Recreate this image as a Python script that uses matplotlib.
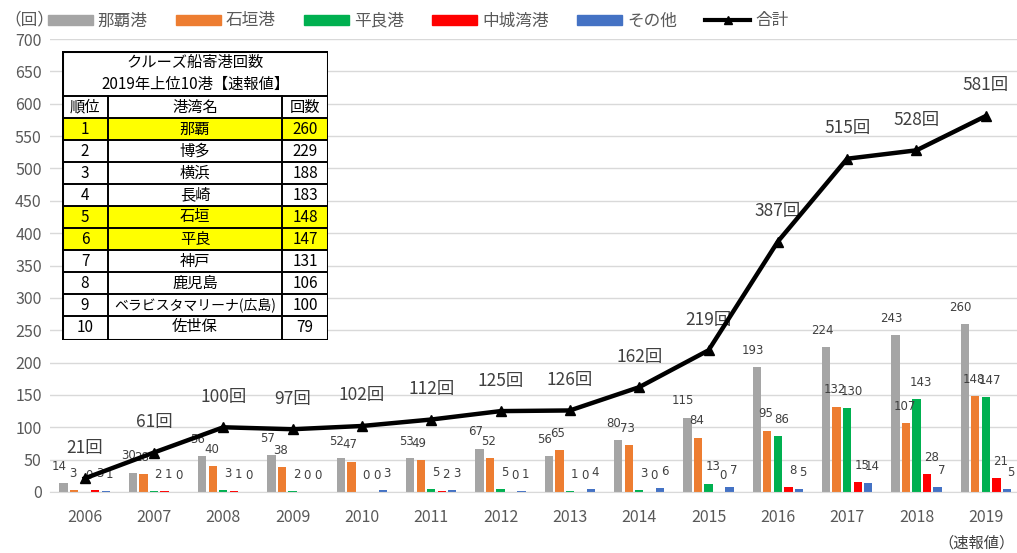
import numpy as np
import matplotlib.pyplot as plt
from matplotlib.lines import Line2D
from matplotlib.patches import Patch, Rectangle

plt.rcParams['font.family'] = ['Noto Sans CJK JP', 'DejaVu Sans']

years = ['2006', '2007', '2008', '2009', '2010', '2011', '2012',
         '2013', '2014', '2015', '2016', '2017', '2018', '2019']
naha = [14, 30, 56, 57, 52, 53, 67, 56, 80, 115, 193, 224, 243, 260]
ishigaki = [3, 28, 40, 38, 47, 49, 52, 65, 73, 84, 95, 132, 107, 148]
hirara = [0, 2, 3, 2, 0, 5, 5, 1, 3, 13, 86, 130, 143, 147]
nakagusuku = [3, 1, 1, 0, 0, 2, 0, 0, 0, 0, 8, 15, 28, 21]
other = [1, 0, 0, 0, 3, 3, 1, 4, 6, 7, 5, 14, 7, 5]
total = [21, 61, 100, 97, 102, 112, 125, 126, 162, 219, 387, 515, 528, 581]

series_names = ['那覇港', '石垣港', '平良港', '中城湾港', 'その他']
series_colors = ['#A5A5A5', '#ED7D31', '#00B050', '#FF0000', '#4472C4']

# table (2019 top 10)
rank = ['1', '2', '3', '4', '5', '6', '7', '8', '9', '10']
ports = ['那覇', '博多', '横浜', '長崎', '石垣', '平良', '神戸', '鹿児島',
         'ベラビスタマリーナ(広島)', '佐世保']
calls = ['260', '229', '188', '183', '148', '147', '131', '106', '100', '79']
highlight = [True, False, False, False, True, True, False, False, False, False]

W, H = 1017, 553
fig = plt.figure(figsize=(W / 100, H / 100), dpi=100)
ax = fig.add_axes([50 / W, (H - 492) / H, (W - 50) / W, (492 - 39) / H])

txt = '#595959'
x = np.arange(len(years))
bw = 0.12
pitch = 0.152
data = [naha, ishigaki, hirara, nakagusuku, other]
lab_dx = [-3, -1, 3, 3, 3]
for i, (vals, c) in enumerate(zip(data, series_colors)):
    xs = x + (i - 2) * pitch
    ax.bar(xs, vals, width=bw, color=c, zorder=2)
    for xi, v in zip(xs, vals):
        ax.annotate(str(v), (xi, v), xytext=(lab_dx[i], 12), textcoords='offset points',
                    ha='center', va='center', fontsize=8.5, color='#404040',
                    family=['DejaVu Sans'])

ax.plot(x, total, color='black', lw=3.2, marker='^', ms=7, zorder=4)
for xi, v in zip(x, total):
    ax.annotate(f'{v}回', (xi, v), xytext=(0, 22), textcoords='offset points',
                ha='center', va='center', fontsize=12.5, color='#404040')

ax.set_xlim(-0.5, 13.45)
ax.set_ylim(0, 700)
ax.set_yticks(np.arange(0, 701, 50))
ax.set_xticks(x)
ax.set_xticklabels(years)
ax.grid(axis='y', color='#D9D9D9', lw=1, zorder=0)
ax.set_axisbelow(True)
for s in ['top', 'right', 'left']:
    ax.spines[s].set_visible(False)
ax.spines['bottom'].set_color('#D9D9D9')
ax.tick_params(axis='both', length=0, labelsize=11.5, colors=txt)
ax.tick_params(axis='x', pad=12)
ax.tick_params(axis='y', pad=6)

fig.text(4 / W, 1 - 20 / H, '（回）', fontsize=12, color=txt, va='center')
fig.text(1015 / W, 1 - 543 / H, '（速報値）', fontsize=11, color='#404040',
         va='center', ha='right')

handles = [Patch(color=c) for c in series_colors]
handles.append(Line2D([], [], color='black', lw=3, marker='^', ms=6))
fig.legend(handles, series_names + ['合計'], loc='center', ncol=6,
           bbox_to_anchor=(418 / W, 1 - 21 / H), frameon=False, fontsize=12,
           labelcolor=txt, handlelength=2.7, handleheight=0.55,
           columnspacing=1.7, handletextpad=0.3)

# inset table
tw, th = 266, 289
tax = fig.add_axes([62 / W, (H - 51 - th) / H, tw / W, th / H])
tax.set_xlim(0, tw)
tax.set_ylim(th, 0)
tax.axis('off')
cols = [0, 46, 220, tw]
fs = 11
tax.add_patch(Rectangle((0, 0), tw, th, facecolor='white', edgecolor='none'))
tax.text(tw / 2, 11, 'クルーズ船寄港回数', ha='center', va='center', fontsize=fs)
tax.text(tw / 2, 33, '2019年上位10港【速報値】', ha='center', va='center', fontsize=fs)
rows = [45, 67] + [67 + 22 * (k + 1) for k in range(10)]
head = ['順位', '港湾名', '回数']
for j in range(3):
    tax.text((cols[j] + cols[j + 1]) / 2, 56, head[j], ha='center', va='center', fontsize=fs)
for k in range(10):
    y0 = rows[k + 1]
    if highlight[k]:
        tax.add_patch(Rectangle((0, y0), tw, 22, facecolor='#FFFF00', edgecolor='none'))
    yc = y0 + 11
    tax.text(cols[1] / 2, yc, rank[k], ha='center', va='center', fontsize=fs)
    pfs = fs if len(ports[k]) < 8 else 10
    tax.text((cols[1] + cols[2]) / 2, yc, ports[k], ha='center', va='center', fontsize=pfs)
    tax.text((cols[2] + cols[3]) / 2, yc, calls[k], ha='center', va='center', fontsize=fs)
for yy in rows[:-1]:
    tax.plot([0, tw], [yy, yy], color='black', lw=1.4)
for xx in cols[1:3]:
    tax.plot([xx, xx], [45, th], color='black', lw=1.4)
tax.add_patch(Rectangle((0, 0), tw, th, facecolor='none', edgecolor='black', lw=2.2))

fig.savefig('out.png', dpi=100)
